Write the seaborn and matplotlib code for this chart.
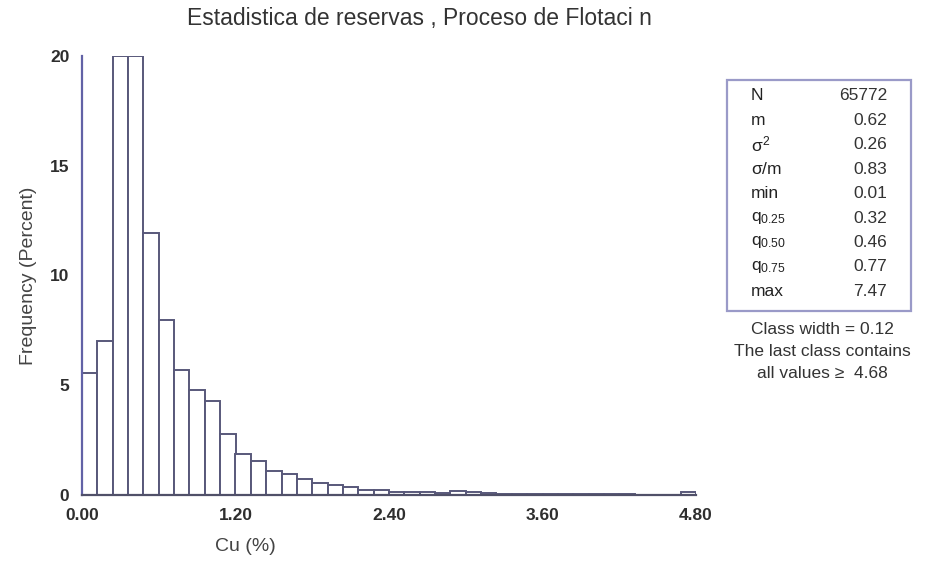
import numpy as np
import pandas as pd
import matplotlib
matplotlib.use("Agg")
import matplotlib.pyplot as plt
import seaborn as sns

# ---- data ----
class_width = 0.12
n_classes = 40
freq_pct = [5.55, 7.0, 20.0, 20.0, 11.95, 7.95, 5.7, 4.8, 4.3, 2.8,
            1.85, 1.55, 1.1, 0.95, 0.75, 0.55, 0.45, 0.35, 0.25, 0.25,
            0.15, 0.15, 0.12, 0.10, 0.18, 0.15, 0.08, 0.06, 0.05, 0.05,
            0.04, 0.04, 0.03, 0.03, 0.03, 0.03, 0.02, 0.02, 0.02, 0.12]
x_ticks = [0.0, 1.2, 2.4, 3.6, 4.8]
x_ticklabels = ["0.00", "1.20", "2.40", "3.60", "4.80"]
y_ticks = [0, 5, 10, 15, 20]
stat_names = ["N", "m", r"$\sigma^2$", r"$\sigma$/m", "min",
              r"$q_{0.25}$", r"$q_{0.50}$", r"$q_{0.75}$", "max"]
stat_values = ["65772", "0.62", "0.26", "0.83", "0.01",
               "0.32", "0.46", "0.77", "7.47"]
note_lines = ["Class width = 0.12", "The last class contains", "all values \u2265  4.68"]
title = "Estadistica de reservas , Proceso de Flotaci n"

x_max = class_width * n_classes
edges = np.linspace(0, x_max, n_classes + 1)
centers = (edges[:-1] + edges[1:]) / 2
df = pd.DataFrame({"cu": centers, "pct": freq_pct})

sns.set_style("white")
plt.rcParams["font.family"] = ["Liberation Sans", "DejaVu Sans"]
plt.rcParams["mathtext.fontset"] = "custom"
plt.rcParams["mathtext.rm"] = "Liberation Sans"
plt.rcParams["mathtext.it"] = "Liberation Sans"

W, H = 934, 564
fig = plt.figure(figsize=(W / 100, H / 100), dpi=100)
ax_l, ax_r, ax_t, ax_b = 82, 696, 56, 495
ax = fig.add_axes([ax_l / W, 1 - ax_b / H, (ax_r - ax_l) / W, (ax_b - ax_t) / H])

sns.histplot(data=df, x="cu", weights="pct", binwidth=class_width, binrange=(0, x_max),
             stat="count", ax=ax, color="white", edgecolor="#58587a", linewidth=1.4, alpha=1)

ax.set_xlim(0, x_max)
ax.set_ylim(0, 20)
ax.set_xticks(x_ticks)
ax.set_xticklabels(x_ticklabels)
ax.set_xticks(edges, minor=True)
ax.set_yticks(y_ticks)
for s in ["top", "right"]:
    ax.spines[s].set_visible(False)
ax.spines["left"].set_color("#6262a6")
ax.spines["bottom"].set_color("#505068")
ax.spines["left"].set_linewidth(1.6)
ax.spines["bottom"].set_linewidth(1.6)
ax.tick_params(axis="both", which="major", direction="out", length=6, width=1.3,
               colors="#444455", labelsize=12.5, labelcolor="#2e2e2e", pad=3)
ax.tick_params(axis="x", which="minor", direction="out", length=4, width=1.1, colors="#444455")
for lab in ax.get_xticklabels() + ax.get_yticklabels():
    lab.set_fontweight("bold")
ax.set_xlabel("Cu (%)", fontsize=14, color="#444444")
ax.set_ylabel("Frequency (Percent)", fontsize=14, color="#444444")
ax.xaxis.set_label_coords((245 - ax_l) / (ax_r - ax_l), -(538 - ax_b) / (ax_b - ax_t))
ax.yaxis.set_label_coords(-(ax_l - 37) / (ax_r - ax_l), 0.5)
ax.grid(False)

fig.text(419 / W, 1 - 18 / H, title, ha="center", va="center", fontsize=16.5, color="#333333")

# statistics box
box_l, box_r, box_t, box_b = 727, 911, 80, 311
rect = plt.Rectangle((box_l / W, 1 - box_b / H), (box_r - box_l) / W, (box_b - box_t) / H,
                     transform=fig.transFigure, fill=False, edgecolor="#9a9ac8", linewidth=1.6)
fig.patches.append(rect)
row0, row_step = 96, 24.4
for i, (nm, val) in enumerate(zip(stat_names, stat_values)):
    y = 1 - (row0 + i * row_step) / H
    fig.text(751 / W, y, nm, ha="left", va="center", fontsize=12.5, color="#222222")
    fig.text(887 / W, y, val, ha="right", va="center", fontsize=12.5, color="#333333")
for j, (line, yy) in enumerate(zip(note_lines, [330, 352, 373])):
    fig.text(822 / W, 1 - yy / H, line, ha="center", va="center",
             fontsize=12.5, color="#333333")

fig.savefig("out.png", dpi=100)
